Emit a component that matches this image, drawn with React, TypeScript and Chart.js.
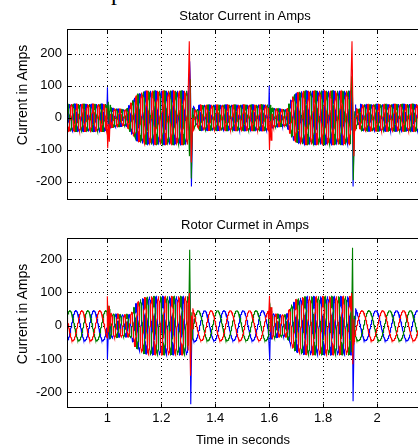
import React, { useEffect, useRef } from "react";
import { Chart, registerables } from "chart.js";

Chart.register(...registerables);

// ---------------- data ----------------
const T_START = 0.85;
const T_END = 2.2;
const SAMPLE_STEP = 0.0004;

const X_TICKS = [1, 1.2, 1.4, 1.6, 1.8, 2];
const X_TICK_LABELS = ["1", "1.2", "1.4", "1.6", "1.8", "2"];
const Y_TICKS = [-200, -100, 0, 100, 200];

const PHASE_COLORS = ["#ff0000", "#008000", "#0000ff"]; // red, green, blue
const PHASE_SHIFT = [0, 1, 2];

// Stator current: envelope (time s, amplitude A), frequency (Hz)
const STATOR_Y_MIN = -257;
const STATOR_Y_MAX = 277;
const statorEnvTime = [0.85, 0.998, 1.01, 1.04, 1.065, 1.072, 1.09, 1.109, 1.134, 1.15, 1.302, 1.318, 1.33, 1.34, 1.598, 1.61, 1.64, 1.665, 1.672, 1.69, 1.715, 1.73, 1.905, 1.92, 1.93, 1.94, 2.2];
const statorEnvAmp = [43, 43, 32, 28, 26, 28, 51, 72, 82, 84, 84, 40, 20, 40, 41, 32, 28, 26, 40, 72, 82, 84, 84, 40, 20, 42, 43];
const statorFreqTime = [0.85];
const statorFreqHz = [50];

// Stator transient points [time, value] per phase
const statorSpikesRed = [
  [[0.998, 30], [1.001, -95], [1.004, -20], [1.007, -75], [1.010, -5]],
  [[1.299, 60], [1.3035, 239], [1.307, 60], [1.311, -140], [1.316, 0]],
  [[1.598, 30], [1.601, -100], [1.604, -10], [1.607, -70], [1.610, 0]],
  [[1.903, 60], [1.907, 239], [1.910, 50], [1.914, -120], [1.918, 0]],
];
const statorSpikesGreen = [
  [[0.999, 10], [1.003, 50], [1.006, -20], [1.010, 40]],
  [[1.300, 20], [1.304, -120], [1.3075, 120], [1.311, -190], [1.316, 30]],
  [[1.599, 0], [1.603, 40], [1.606, -30], [1.610, 30]],
  [[1.903, 20], [1.906, 129], [1.909, 60], [1.912, -195], [1.917, 20]],
];
const statorSpikesBlue = [
  [[0.998, -30], [1.000, 95], [1.003, -30], [1.006, 20]],
  [[1.300, -40], [1.305, 176], [1.308, 100], [1.3115, -215], [1.316, -20]],
  [[1.598, -20], [1.600, 100], [1.603, -30], [1.606, 20]],
  [[1.904, -40], [1.908, 150], [1.911, -215], [1.915, -40], [1.919, 10]],
];

// Rotor current
const ROTOR_Y_MIN = -247;
const ROTOR_Y_MAX = 263;
const rotorEnvTime = [0.85, 0.999, 1.01, 1.05, 1.085, 1.103, 1.122, 1.14, 1.16, 1.302, 1.318, 1.332, 1.598, 1.61, 1.64, 1.665, 1.683, 1.70, 1.72, 1.74, 1.905, 1.92, 1.93, 2.2];
const rotorEnvAmp = [45, 45, 38, 34, 34, 64, 79, 85, 88, 88, 50, 45, 45, 38, 34, 34, 64, 79, 85, 88, 88, 50, 45, 45];
const rotorFreqTime = [0.85, 1.0, 1.315, 1.6, 1.915];
const rotorFreqHz = [15, 40, 14, 40, 13];

const rotorSpikesRed = [
  [[0.999, 20], [1.001, 88], [1.004, -20], [1.007, 60], [1.010, 0]],
  [[1.300, 60], [1.304, 98], [1.308, -150], [1.312, 30], [1.316, -10]],
  [[1.599, 20], [1.601, 90], [1.604, -20], [1.607, 55], [1.610, 0]],
  [[1.904, 60], [1.907, 98], [1.910, -116], [1.914, 20]],
];
const rotorSpikesGreen = [
  [[0.999, 30], [1.003, 60], [1.006, -10], [1.009, 50]],
  [[1.301, -60], [1.305, 228], [1.309, -80], [1.313, 40]],
  [[1.599, 30], [1.603, 55], [1.606, -10], [1.609, 45]],
  [[1.905, -80], [1.909, 234], [1.912, -60], [1.916, 30]],
];
const rotorSpikesBlue = [
  [[0.999, -30], [1.002, -101], [1.005, 20], [1.008, -40]],
  [[1.302, 40], [1.306, 100], [1.309, -236], [1.313, -20], [1.317, 20]],
  [[1.599, -30], [1.602, -105], [1.605, 20], [1.608, -40]],
  [[1.905, 60], [1.908, 100], [1.911, -227], [1.915, -30], [1.919, 20]],
];

// ---------------- building the series ----------------
type Pt = { x: number; y: number };

function lerpAt(ts: number[], vs: number[], t: number): number {
  if (t <= ts[0]) return vs[0];
  for (let i = 1; i < ts.length; i++) {
    if (t <= ts[i]) {
      const f = (t - ts[i - 1]) / (ts[i] - ts[i - 1]);
      return vs[i - 1] + f * (vs[i] - vs[i - 1]);
    }
  }
  return vs[vs.length - 1];
}

function stepAt(ts: number[], vs: number[], t: number): number {
  let v = vs[0];
  for (let i = 0; i < ts.length; i++) if (t >= ts[i]) v = vs[i];
  return v;
}

function buildPhase(
  envT: number[], envA: number[], fT: number[], fV: number[],
  phase0: number, k: number, spikes: number[][][]
): Pt[] {
  const n = Math.round((T_END - T_START) / SAMPLE_STEP);
  let ph = phase0;
  let pts: Pt[] = [];
  for (let i = 0; i <= n; i++) {
    const t = T_START + i * SAMPLE_STEP;
    if (i > 0) ph += 2 * Math.PI * stepAt(fT, fV, t) * SAMPLE_STEP;
    pts.push({ x: t, y: lerpAt(envT, envA, t) * Math.sin(ph - (k * 2 * Math.PI) / 3) });
  }
  for (const s of spikes) {
    const a = s[0][0];
    const b = s[s.length - 1][0];
    const before = pts.filter((p) => p.x < a);
    const after = pts.filter((p) => p.x > b);
    pts = [...before, ...s.map(([x, y]) => ({ x, y })), ...after];
  }
  return pts;
}

// ---------------- MATLAB-like axes decoration ----------------
const matlabAxes = {
  id: "matlabAxes",
  beforeDatasetsDraw(chart: any) {
    const { ctx, chartArea } = chart;
    const { left, right, top, bottom } = chartArea;
    const xs = chart.scales.x;
    const ys = chart.scales.y;
    ctx.save();
    ctx.strokeStyle = "#000";
    ctx.lineWidth = 1;
    ctx.setLineDash([1, 3]);
    for (const v of X_TICKS) {
      const px = Math.round(xs.getPixelForValue(v)) + 0.5;
      ctx.beginPath();
      ctx.moveTo(px, top);
      ctx.lineTo(px, bottom);
      ctx.stroke();
    }
    for (const v of Y_TICKS) {
      const py = Math.round(ys.getPixelForValue(v)) + 0.5;
      ctx.beginPath();
      ctx.moveTo(left, py);
      ctx.lineTo(right, py);
      ctx.stroke();
    }
    ctx.restore();
  },
  afterDatasetsDraw(chart: any) {
    const { ctx, chartArea } = chart;
    const { left, right, top, bottom } = chartArea;
    const xs = chart.scales.x;
    const ys = chart.scales.y;
    const L = Math.round(left) + 0.5;
    const R = Math.round(right) - 0.5;
    const T = Math.round(top) + 0.5;
    const B = Math.round(bottom) - 0.5;
    ctx.save();
    ctx.strokeStyle = "#000";
    ctx.lineWidth = 1;
    ctx.setLineDash([]);
    ctx.strokeRect(L, T, R - L, B - T);
    const tl = 4;
    ctx.beginPath();
    for (const v of X_TICKS) {
      const px = Math.round(xs.getPixelForValue(v)) + 0.5;
      ctx.moveTo(px, B);
      ctx.lineTo(px, B - tl);
      ctx.moveTo(px, T);
      ctx.lineTo(px, T + tl);
    }
    for (const v of Y_TICKS) {
      const py = Math.round(ys.getPixelForValue(v)) + 0.5;
      ctx.moveTo(L, py);
      ctx.lineTo(L + tl, py);
      ctx.moveTo(R, py);
      ctx.lineTo(R - tl, py);
    }
    ctx.stroke();
    ctx.restore();
  },
};

const FONT = "'Liberation Sans', Arial, Helvetica, sans-serif";

function makeChart(
  canvas: HTMLCanvasElement,
  series: Pt[][],
  yMin: number,
  yMax: number,
  padTop: number,
  xHeight: number,
  showXLabels: boolean
) {
  return new Chart(canvas, {
    type: "line",
    data: {
      datasets: series.map((d, i) => ({
        data: d,
        borderColor: PHASE_COLORS[i],
        borderWidth: 1.1,
        pointRadius: 0,
        fill: false,
        tension: 0,
      })),
    },
    options: {
      responsive: false,
      animation: false,
      parsing: false,
      normalized: true,
      events: [],
      layout: { padding: { top: padTop, left: 0, right: 0, bottom: 0 } },
      plugins: { legend: { display: false }, tooltip: { enabled: false }, title: { display: false } },
      scales: {
        x: {
          type: "linear",
          min: T_START,
          max: T_END,
          grid: { display: false, drawTicks: false },
          border: { display: false },
          afterBuildTicks: (s: any) => {
            s.ticks = X_TICKS.map((v) => ({ value: v }));
          },
          afterFit: (s: any) => {
            s.height = xHeight;
          },
          ticks: {
            display: showXLabels,
            autoSkip: false,
            maxRotation: 0,
            padding: 3,
            color: "#000",
            font: { family: FONT, size: 13 },
            callback: (v: any) => X_TICK_LABELS[X_TICKS.indexOf(Number(v))] ?? "",
          },
        },
        y: {
          type: "linear",
          min: yMin,
          max: yMax,
          grid: { display: false, drawTicks: false },
          border: { display: false },
          afterBuildTicks: (s: any) => {
            s.ticks = Y_TICKS.map((v) => ({ value: v }));
          },
          afterFit: (s: any) => {
            s.width = 67;
          },
          ticks: {
            padding: 5,
            color: "#000",
            font: { family: FONT, size: 13 },
            callback: (v: any) => String(v),
          },
        },
      },
    },
    plugins: [matlabAxes],
  } as any);
}

const PHASE0 = (5 * Math.PI) / 6;

export default function App() {
  const topRef = useRef<HTMLCanvasElement>(null);
  const botRef = useRef<HTMLCanvasElement>(null);

  useEffect(() => {
    const statorSpikes = [statorSpikesRed, statorSpikesGreen, statorSpikesBlue];
    const rotorSpikes = [rotorSpikesRed, rotorSpikesGreen, rotorSpikesBlue];
    const stator = PHASE_SHIFT.map((k, i) =>
      buildPhase(statorEnvTime, statorEnvAmp, statorFreqTime, statorFreqHz, PHASE0, k, statorSpikes[i])
    );
    const rotor = PHASE_SHIFT.map((k, i) =>
      buildPhase(rotorEnvTime, rotorEnvAmp, rotorFreqTime, rotorFreqHz, PHASE0, k, rotorSpikes[i])
    );
    const c1 = makeChart(topRef.current!, stator, STATOR_Y_MIN, STATOR_Y_MAX, 29, 15, false);
    const c2 = makeChart(botRef.current!, rotor, ROTOR_Y_MIN, ROTOR_Y_MAX, 28, 40, true);
    return () => {
      c1.destroy();
      c2.destroy();
    };
  }, []);

  const text: React.CSSProperties = {
    position: "absolute",
    fontFamily: FONT,
    fontSize: 13,
    lineHeight: "13px",
    whiteSpace: "nowrap",
    color: "#000",
    textAlign: "center",
    width: 300,
    height: 13,
  };
  const ylab: React.CSSProperties = { ...text, fontSize: 14, lineHeight: "14px", height: 14 };

  return (
    <div
      style={{
        position: "absolute",
        left: 0,
        top: 0,
        width: 418,
        height: 448,
        overflow: "hidden",
        background: "#fff",
      }}
    >
      <span
        style={{
          position: "absolute",
          left: 111,
          top: -20,
          fontFamily: "'Liberation Serif', 'Times New Roman', serif",
          fontSize: 24,
          lineHeight: "24px",
        }}
      >
        p
      </span>
      <canvas ref={topRef} width={431} height={215} style={{ position: "absolute", left: 0, top: 0 }} />
      <canvas ref={botRef} width={431} height={238} style={{ position: "absolute", left: 0, top: 210 }} />
      <div style={{ ...text, left: 245 - 150, top: 8.5 }}>Stator Current in Amps</div>
      <div style={{ ...text, left: 245 - 150, top: 217.5 }}>Rotor Curmet in Amps</div>
      <div style={{ ...text, left: 243 - 150, top: 433 }}>Time in seconds</div>
      <div style={{ ...ylab, left: 21.5 - 150, top: 95 - 7, transform: "rotate(-90deg)" }}>Current in Amps</div>
      <div style={{ ...ylab, left: 21.5 - 150, top: 314 - 7, transform: "rotate(-90deg)" }}>Current in Amps</div>
    </div>
  );
}
